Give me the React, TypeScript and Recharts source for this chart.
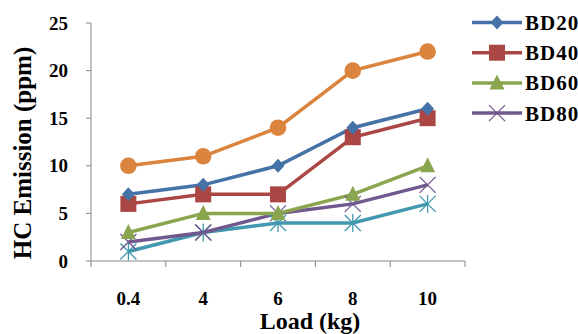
import React from 'react';
import { LineChart, Line, XAxis, YAxis } from 'recharts';

const loads = ['0.4', '4', '6', '8', '10'];
const bd20 = [7, 8, 10, 14, 16];
const bd40 = [6, 7, 7, 13, 15];
const bd60 = [3, 5, 5, 7, 10];
const bd80 = [2, 3, 5, 6, 8];
const bd100 = [10, 11, 14, 20, 22];
const diesel = [1, 3, 4, 4, 6];
const yTicks = [0, 5, 10, 15, 20, 25];

const data = loads.map((l, i) => ({
  load: l,
  BD20: bd20[i],
  BD40: bd40[i],
  BD60: bd60[i],
  BD80: bd80[i],
  BD100: bd100[i],
  Diesel: diesel[i],
}));

type Shape = 'circle' | 'diamond' | 'square' | 'triangle' | 'x' | 'star';

const Marker = ({ cx, cy, shape, color }: { cx: number; cy: number; shape: Shape; color: string }) => {
  switch (shape) {
    case 'circle':
      return <circle cx={cx} cy={cy} r={8.3} fill={color} />;
    case 'diamond':
      return <polygon points={`${cx},${cy - 7} ${cx + 6.5},${cy} ${cx},${cy + 7} ${cx - 6.5},${cy}`} fill={color} />;
    case 'square':
      return <rect x={cx - 8} y={cy - 8} width={16} height={16} fill={color} />;
    case 'triangle':
      return <polygon points={`${cx},${cy - 8.5} ${cx + 7.5},${cy + 6.5} ${cx - 7.5},${cy + 6.5}`} fill={color} />;
    case 'x':
      return (
        <g stroke={color} strokeWidth={1.3}>
          <line x1={cx - 8} y1={cy - 8} x2={cx + 8} y2={cy + 8} />
          <line x1={cx - 8} y1={cy + 8} x2={cx + 8} y2={cy - 8} />
        </g>
      );
    case 'star':
      return (
        <g stroke={color} strokeWidth={1.3}>
          <line x1={cx - 8} y1={cy - 8} x2={cx + 8} y2={cy + 8} />
          <line x1={cx - 8} y1={cy + 8} x2={cx + 8} y2={cy - 8} />
          <line x1={cx} y1={cy - 9} x2={cx} y2={cy + 9} />
        </g>
      );
  }
  return null;
};

const makeDot = (shape: Shape, color: string) => (props: any) => (
  <Marker key={`${shape}-${props.index}`} cx={props.cx} cy={props.cy} shape={shape} color={color} />
);

const series: { key: string; color: string; shape: Shape }[] = [
  { key: 'Diesel', color: '#4198AF', shape: 'star' },
  { key: 'BD80', color: '#71588F', shape: 'x' },
  { key: 'BD60', color: '#89A54E', shape: 'triangle' },
  { key: 'BD40', color: '#AA4643', shape: 'square' },
  { key: 'BD20', color: '#4572A7', shape: 'diamond' },
  { key: 'BD100', color: '#DB843D', shape: 'circle' },
];

const legendKeys = ['BD20', 'BD40', 'BD60', 'BD80'];
const legendItems = legendKeys.map((k) => series.find((s) => s.key === k)!);

const font = '"Liberation Serif", "Times New Roman", serif';

const W = 578;
const H = 334;
const M = { top: 23, right: 113, bottom: 0, left: 0 };
const Y_W = 91;
const X_H = 73;
const halfBand = (W - M.left - M.right - Y_W) / loads.length / 2;

const LegendBox = () => (
  <svg width={110} height={130} style={{ position: 'absolute', left: 472, top: 7 }}>
    {legendItems.map((s, i) => {
      const y = 15.5 + i * 30.2;
      return (
        <g key={s.key}>
          <line x1={0} y1={y} x2={50} y2={y} stroke={s.color} strokeWidth={3.5} />
          <Marker cx={25} cy={y} shape={s.shape} color={s.color} />
          <text x={53} y={y + 7.5} fontFamily={font} fontWeight="bold" fontSize={21} letterSpacing={1} fill="#000">
            {s.key}
          </text>
        </g>
      );
    })}
  </svg>
);

const YTitle = () => (
  <text
    x={31}
    y={153}
    transform="rotate(-90 31 153)"
    textAnchor="middle"
    fontFamily={font}
    fontWeight="bold"
    fontSize={25}
    fill="#000"
  >
    HC Emission (ppm)
  </text>
);

const XTitle = () => (
  <text x={310} y={329} textAnchor="middle" fontFamily={font} fontWeight="bold" fontSize={24} fill="#000">
    Load (kg)
  </text>
);

const XTick = (props: any) => {
  const axisY = props.y - 30;
  return (
    <g>
      {props.index === 0 && (
        <line x1={props.x - halfBand} y1={axisY} x2={props.x - halfBand} y2={axisY + 6} stroke="#868686" />
      )}
      <line x1={props.x + halfBand} y1={axisY} x2={props.x + halfBand} y2={axisY + 6} stroke="#868686" />
      <text x={props.x} y={props.y + 14} textAnchor="middle" fontFamily={font} fontWeight="bold" fontSize={19} fill="#000">
        {props.payload.value}
      </text>
    </g>
  );
};

const YTick = (props: any) => (
  <text x={props.x} y={props.y + 6.5} textAnchor="end" fontFamily={font} fontWeight="bold" fontSize={19} fill="#000">
    {props.payload.value}
  </text>
);

export default function App() {
  return (
    <div style={{ position: 'absolute', left: 0, top: 0, width: W, height: H, background: '#fff' }}>
      <LineChart width={W} height={H} data={data} margin={M}>
        <XAxis
          dataKey="load"
          height={X_H}
          stroke="#868686"
          padding={{ left: halfBand, right: halfBand }}
          tickSize={6}
          tickLine={{ stroke: 'transparent' }}
          tickMargin={24}
          tick={<XTick />}
          label={<XTitle />}
        />
        <YAxis
          width={Y_W}
          domain={[0, 25]}
          ticks={yTicks}
          stroke="#868686"
          tickSize={5}
          tickMargin={18}
          tick={<YTick />}
          label={<YTitle />}
        />
        {series.map((s) => (
          <Line
            key={s.key}
            dataKey={s.key}
            stroke={s.color}
            strokeWidth={3.5}
            dot={makeDot(s.shape, s.color)}
            activeDot={false}
            isAnimationActive={false}
          />
        ))}
      </LineChart>
      <LegendBox />
    </div>
  );
}
